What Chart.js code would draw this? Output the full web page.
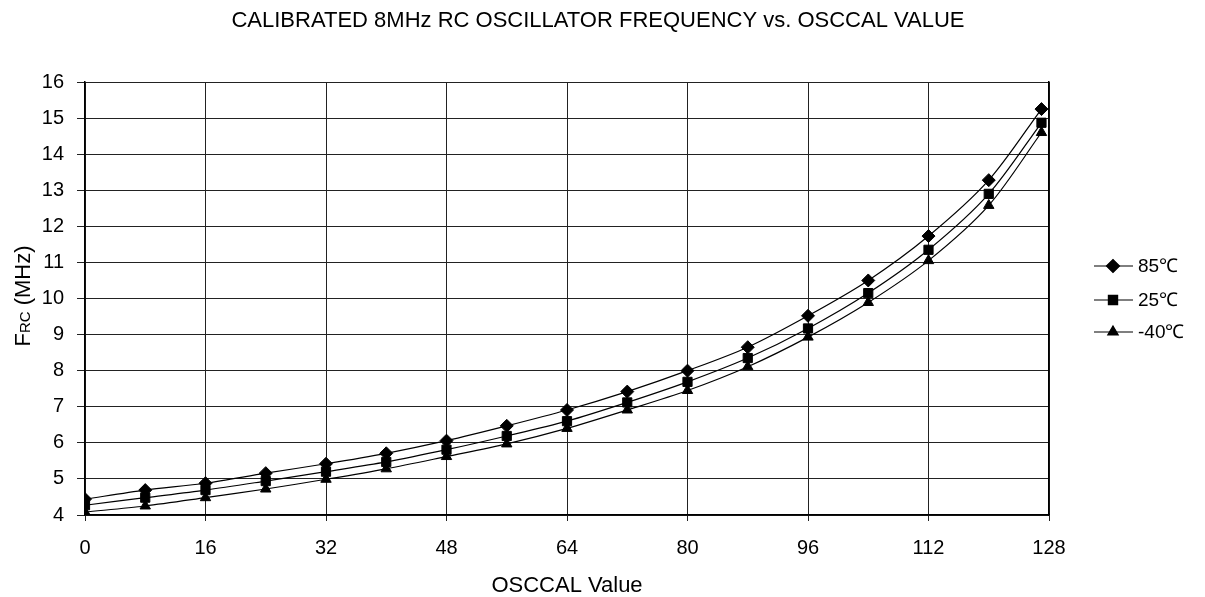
<!DOCTYPE html>
<html>
<head>
<meta charset="utf-8">
<script src="https://cdn.jsdelivr.net/npm/chart.js@4.4.1/dist/chart.umd.min.js"></script>
<style>
  html, body { margin: 0; padding: 0; background: #fff; }
  #wrap { width: 1205px; height: 597px; }
</style>
</head>
<body>
<div id="wrap"><canvas id="myChart" width="1205" height="597"></canvas></div>
<script>
var osccal = [0, 8, 16, 24, 32, 40, 48, 56, 64, 72, 80, 88, 96, 104, 112, 120, 127];
var f85 = [4.44, 4.69, 4.88, 5.16, 5.42, 5.71, 6.06, 6.47, 6.91, 7.42, 8.00, 8.65, 9.52, 10.50, 11.73, 13.28, 15.25];
var f25 = [4.27, 4.48, 4.69, 4.94, 5.20, 5.47, 5.81, 6.19, 6.60, 7.12, 7.69, 8.35, 9.17, 10.15, 11.35, 12.90, 14.87];
var fm40 = [4.08, 4.25, 4.48, 4.72, 4.99, 5.28, 5.62, 5.97, 6.40, 6.91, 7.45, 8.11, 8.93, 9.89, 11.05, 12.58, 14.60];
var seriesLabels = ["85\u2103", "25\u2103", "-40\u2103"];
var xTicks = [0, 16, 32, 48, 64, 80, 96, 112, 128];

var FONT = "'Liberation Sans', Arial, sans-serif";

function toPoints(vals) {
  return vals.map(function (v, i) { return { x: osccal[i], y: v }; });
}

function makeSet(label, vals, style, r) {
  return {
    label: label,
    data: toPoints(vals),
    borderColor: "#000",
    backgroundColor: "#000",
    borderWidth: 1.2,
    pointStyle: style,
    pointRadius: r,
    pointBorderWidth: 1,
    tension: 0.3
  };
}

// title, axis titles (y one has a subscript) and the legend at the right
var extras = {
  id: "extras",
  afterDraw: function (chart) {
    var c = chart.ctx;
    var area = chart.chartArea;
    c.save();
    c.fillStyle = "#000";
    c.textAlign = "center";
    c.textBaseline = "alphabetic";
    c.font = "22px " + FONT;
    c.fillText("CALIBRATED 8MHz RC OSCILLATOR FREQUENCY vs. OSCCAL VALUE", 598, 27);
    c.fillText("OSCCAL Value", (area.left + area.right) / 2, 592);

    // y title: F with subscript RC
    c.translate(22, 296);
    c.rotate(-Math.PI / 2);
    c.textAlign = "left";
    var parts = [["F", "22px "], ["RC", "15px "], [" (MHz)", "22px "]];
    var total = 0;
    parts.forEach(function (p) { c.font = p[1] + FONT; total += c.measureText(p[0]).width; });
    var px = -total / 2;
    parts.forEach(function (p) {
      c.font = p[1] + FONT;
      c.fillText(p[0], px, 8);
      px += c.measureText(p[0]).width;
    });
    c.restore();

    // legend
    c.save();
    var rows = [266, 300, 332];
    chart.data.datasets.forEach(function (ds, i) {
      var y = rows[i];
      c.strokeStyle = "#000";
      c.lineWidth = 1.2;
      c.beginPath();
      c.moveTo(1094, y);
      c.lineTo(1133, y);
      c.stroke();
      c.fillStyle = "#000";
      Chart.helpers.drawPoint(c, { pointStyle: ds.pointStyle, radius: ds.pointRadius, borderWidth: 1 }, 1113, y);
      c.fill();
      c.font = "19px " + FONT;
      c.textAlign = "left";
      c.textBaseline = "middle";
      c.fillText(ds.label, 1138, y + 1);
    });
    c.restore();
  }
};

var ctx = document.getElementById("myChart").getContext("2d");
var myChart = new Chart(ctx, {
  type: "line",
  plugins: [extras],
  data: {
    datasets: [
      makeSet(seriesLabels[0], f85, "rectRot", 6.5),
      makeSet(seriesLabels[1], f25, "rect", 6.5),
      makeSet(seriesLabels[2], fm40, "triangle", 6)
    ]
  },
  options: {
    responsive: false,
    animation: false,
    layout: { padding: { top: 82, right: 156, bottom: 0, left: 0 } },
    plugins: {
      legend: { display: false },
      title: { display: false },
      tooltip: { enabled: false }
    },
    scales: {
      x: {
        type: "linear",
        min: 0,
        max: 128,
        afterFit: function (s) { s.height = 82; },
        afterBuildTicks: function (s) { s.ticks = xTicks.map(function (v) { return { value: v }; }); },
        grid: { color: "#222", lineWidth: 1, tickLength: 6 },
        border: { color: "#000", width: 1.5 },
        ticks: { color: "#000", font: { family: FONT, size: 20 }, padding: 15, maxRotation: 0 }
      },
      y: {
        min: 4,
        max: 16,
        afterFit: function (s) { s.width = 85; },
        grid: { color: "#222", lineWidth: 1, tickLength: 8 },
        border: { color: "#000", width: 1.5 },
        ticks: { stepSize: 1, color: "#000", font: { family: FONT, size: 20 }, padding: 13 }
      },
      // right edge of the plot frame
      y2: {
        position: "right",
        min: 4,
        max: 16,
        afterFit: function (s) { s.width = 0; },
        grid: { display: false },
        border: { color: "#000", width: 1.5 },
        ticks: { display: false }
      }
    }
  }
});
</script>
</body>
</html>
